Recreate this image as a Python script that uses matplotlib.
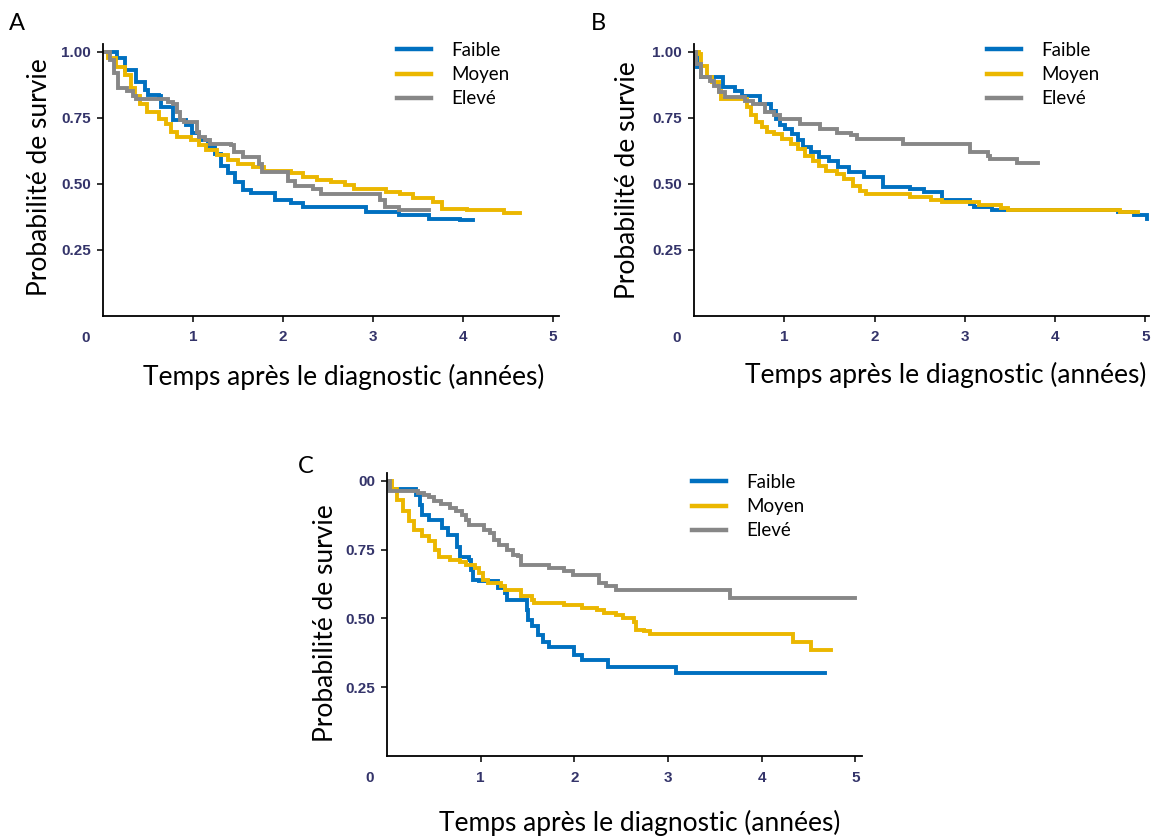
import matplotlib
matplotlib.use("Agg")
import matplotlib.pyplot as plt

# Kaplan-Meier curves: (time in years, survival)
groups = ["Faible", "Moyen", "Elevé"]
colors = ["#0070C0", "#EBB700", "#878787"]

# Panel A
a_faible_t = [0, 0.16, 0.24, 0.37, 0.47, 0.50, 0.62, 0.64, 0.78, 0.92, 0.99, 1.07, 1.17, 1.25, 1.31, 1.39,
              1.47, 1.56, 1.64, 1.91, 2.09, 2.22, 2.92, 3.29, 3.62, 3.97, 4.11]
a_faible_s = [1.0, 0.974, 0.93, 0.886, 0.855, 0.835, 0.83, 0.79, 0.74, 0.72, 0.69, 0.665, 0.64, 0.61, 0.565, 0.54,
              0.507, 0.475, 0.465, 0.437, 0.425, 0.412, 0.393, 0.38, 0.367, 0.362, 0.362]
a_moyen_t = [0, 0.06, 0.15, 0.25, 0.31, 0.36, 0.41, 0.49, 0.62, 0.70, 0.76, 0.82, 0.98, 1.07, 1.15, 1.27, 1.39,
             1.50, 1.67, 1.79, 2.09, 2.22, 2.38, 2.54, 2.69, 2.79, 3.15, 3.30, 3.45, 3.67, 3.77, 4.05, 4.46, 4.64]
a_moyen_s = [1.0, 0.975, 0.94, 0.91, 0.86, 0.83, 0.80, 0.77, 0.745, 0.726, 0.695, 0.676, 0.665, 0.645, 0.627,
             0.608, 0.59, 0.575, 0.562, 0.548, 0.538, 0.525, 0.512, 0.506, 0.493, 0.478, 0.469, 0.462, 0.445,
             0.43, 0.405, 0.398, 0.39, 0.39]
a_eleve_t = [0, 0.08, 0.125, 0.17, 0.27, 0.33, 0.37, 0.72, 0.78, 0.82, 0.86, 0.90, 1.05, 1.07, 1.13, 1.19, 1.42,
             1.46, 1.56, 1.73, 1.77, 2.06, 2.14, 2.34, 2.42, 3.08, 3.14, 3.29, 3.62]
a_eleve_s = [1.0, 0.966, 0.92, 0.86, 0.852, 0.833, 0.82, 0.808, 0.80, 0.77, 0.739, 0.732, 0.694, 0.676, 0.663,
             0.65, 0.644, 0.619, 0.60, 0.574, 0.543, 0.511, 0.492, 0.48, 0.461, 0.436, 0.41, 0.398, 0.398]

# Panel B
b_faible_t = [0, 0.0, 0.03, 0.08, 0.32, 0.45, 0.53, 0.73, 0.85, 0.91, 0.95, 1.01, 1.09, 1.15, 1.21, 1.30, 1.38,
              1.50, 1.60, 1.72, 1.88, 2.09, 2.39, 2.55, 2.75, 3.06, 3.10, 3.30, 4.70, 4.87, 5.02]
b_faible_s = [1.0, 0.978, 0.94, 0.905, 0.865, 0.852, 0.833, 0.80, 0.776, 0.745, 0.72, 0.707, 0.688, 0.663,
              0.638, 0.619, 0.60, 0.587, 0.562, 0.543, 0.524, 0.486, 0.48, 0.467, 0.436, 0.423, 0.41, 0.40,
              0.391, 0.379, 0.366]
b_moyen_t = [0, 0.06, 0.08, 0.14, 0.20, 0.28, 0.30, 0.59, 0.63, 0.69, 0.75, 0.81, 0.89, 0.97, 1.07, 1.15, 1.23,
             1.32, 1.38, 1.46, 1.58, 1.66, 1.76, 1.84, 1.90, 2.39, 2.63, 2.75, 3.16, 3.40, 3.48, 4.72, 4.92]
b_moyen_s = [1.0, 0.99, 0.947, 0.903, 0.884, 0.852, 0.82, 0.79, 0.758, 0.732, 0.713, 0.694, 0.688, 0.669,
             0.65, 0.631, 0.606, 0.587, 0.568, 0.549, 0.537, 0.518, 0.492, 0.473, 0.461, 0.448, 0.438, 0.429,
             0.417, 0.408, 0.40, 0.391, 0.391]
b_eleve_t = [0, 0.02, 0.08, 0.18, 0.22, 0.28, 0.34, 0.57, 0.65, 0.79, 0.89, 0.95, 1.17, 1.40, 1.58, 1.74, 1.80,
             2.31, 3.06, 3.26, 3.28, 3.58, 3.81]
b_eleve_s = [1.0, 0.953, 0.903, 0.89, 0.871, 0.846, 0.827, 0.814, 0.80, 0.77, 0.758, 0.745, 0.726, 0.707,
             0.69, 0.682, 0.669, 0.65, 0.619, 0.606, 0.593, 0.577, 0.577]

# Panel C
c_faible_t = [0, 0.03, 0.31, 0.35, 0.37, 0.45, 0.59, 0.65, 0.75, 0.78, 0.88, 0.90, 0.92, 0.98, 1.18, 1.26,
              1.28, 1.49, 1.51, 1.55, 1.61, 1.67, 1.73, 2.0, 2.08, 2.36, 3.09, 4.67]
c_faible_s = [1.0, 0.97, 0.95, 0.914, 0.877, 0.859, 0.829, 0.805, 0.76, 0.725, 0.714, 0.677, 0.641, 0.635,
              0.61, 0.592, 0.568, 0.532, 0.495, 0.471, 0.44, 0.416, 0.398, 0.368, 0.35, 0.325, 0.30, 0.30]
c_moyen_t = [0, 0.05, 0.11, 0.17, 0.23, 0.29, 0.37, 0.45, 0.51, 0.55, 0.67, 0.78, 0.84, 0.94, 0.98, 1.02, 1.08,
             1.22, 1.26, 1.43, 1.55, 1.57, 1.89, 2.08, 2.24, 2.32, 2.44, 2.52, 2.64, 2.66, 2.74, 2.81, 4.33,
             4.53, 4.74]
c_moyen_s = [1.0, 0.97, 0.932, 0.89, 0.853, 0.823, 0.799, 0.78, 0.75, 0.725, 0.713, 0.707, 0.695, 0.683,
             0.665, 0.641, 0.629, 0.617, 0.604, 0.58, 0.568, 0.556, 0.55, 0.538, 0.532, 0.519, 0.513, 0.501,
             0.489, 0.458, 0.453, 0.444, 0.416, 0.386, 0.386]
c_eleve_t = [0, 0.03, 0.33, 0.39, 0.45, 0.50, 0.58, 0.67, 0.74, 0.80, 0.84, 0.88, 1.04, 1.10, 1.14, 1.20, 1.28,
             1.34, 1.40, 1.43, 1.73, 1.89, 1.99, 2.26, 2.34, 2.44, 3.66, 5.0]
c_eleve_s = [1.0, 0.964, 0.958, 0.948, 0.94, 0.928, 0.915, 0.903, 0.89, 0.878, 0.859, 0.841, 0.823, 0.811,
             0.786, 0.768, 0.75, 0.732, 0.726, 0.695, 0.683, 0.671, 0.659, 0.629, 0.617, 0.604, 0.574, 0.574]

yticks = [0.25, 0.50, 0.75, 1.00]
yticklabels_ab = ["0.25", "0.50", "0.75", "1.00"]
yticklabels_c = ["0.25", "0.50", "0.75", "00"]
xticks = [1, 2, 3, 4, 5]

W, H = 1151, 838
fig = plt.figure(figsize=(W / 100, H / 100), dpi=100)
TICK_COLOR = "#34346a"


def px_rect(left, top, right, bottom):
    return [left / W, 1 - bottom / H, (right - left) / W, (bottom - top) / H]


def km_panel(rect, curves, yticklabels, xmax, letter, letter_xy, xlab_xy, ylab_xy, leg_xy):
    ax = fig.add_axes(rect)
    for (t, s), name, c in zip(curves, groups, colors):
        ax.plot(t, s, drawstyle="steps-post", color=c, lw=2.8, label=name, solid_joinstyle="miter")
    ax.set_xlim(0, xmax)
    ax.set_ylim(0, 1.03)
    ax.set_xticks(xticks)
    ax.set_yticks(yticks)
    ax.set_yticklabels(yticklabels)
    for side in ["top", "right"]:
        ax.spines[side].set_visible(False)
    for side in ["left", "bottom"]:
        ax.spines[side].set_linewidth(1.3)
    ax.tick_params(direction="out", length=4.5, width=1.1, labelsize=11, labelcolor=TICK_COLOR)
    ax.tick_params(axis="x", pad=6)
    ax.tick_params(axis="y", pad=4)
    for lab in ax.get_xticklabels() + ax.get_yticklabels():
        lab.set_fontweight("bold")
        lab.set_family("Liberation Sans")
    # the lone origin label sitting under the corner
    ax.annotate("0", xy=(0, 0), xycoords="axes fraction", xytext=(-17, -22), textcoords="offset pixels",
                ha="center", va="center", fontsize=11, fontweight="bold", color=TICK_COLOR, family="Liberation Sans")
    ax.set_xlabel("Temps après le diagnostic (années)", fontsize=19, family="Lato")
    ax.set_ylabel("Probabilité de survie", fontsize=19, family="Lato")
    ax.xaxis.set_label_coords(*xlab_xy)
    ax.xaxis.label.set_va("center")
    ax.yaxis.set_label_coords(*ylab_xy)
    ax.yaxis.label.set_va("center")
    ax.legend(loc="upper left", bbox_to_anchor=(leg_xy[0] / W, 1 - leg_xy[1] / H),
              bbox_transform=fig.transFigure, frameon=False, prop={"family": "Lato", "size": 13.5},
              handlelength=1.8, handletextpad=1.1, labelspacing=0.38, borderpad=0, borderaxespad=0)
    for line in ax.get_legend().get_lines():
        line.set_linewidth(3.2)
    fig.text(letter_xy[0] / W, 1 - letter_xy[1] / H, letter, fontsize=17, family="Lato", ha="center", va="center")
    return ax


km_panel(px_rect(103, 43.6, 559, 315.5),
         [(a_faible_t, a_faible_s), (a_moyen_t, a_moyen_s), (a_eleve_t, a_eleve_s)],
         yticklabels_ab, 5.07, "A", (17, 23), (0.528, -0.226), (-0.140, 0.509), (397, 42))

km_panel(px_rect(694, 43.6, 1149, 315.5),
         [(b_faible_t, b_faible_s), (b_moyen_t, b_moyen_s), (b_eleve_t, b_eleve_s)],
         yticklabels_ab, 5.04, "B", (598, 23), (0.554, -0.219), (-0.146, 0.498), (987, 42))

km_panel(px_rect(387, 472.7, 862, 756),
         [(c_faible_t, c_faible_s), (c_moyen_t, c_moyen_s), (c_eleve_t, c_eleve_s)],
         yticklabels_c, 5.07, "C", (306, 466), (0.531, -0.2365), (-0.1305, 0.468), (692, 474))

fig.savefig("out.png", dpi=100)
